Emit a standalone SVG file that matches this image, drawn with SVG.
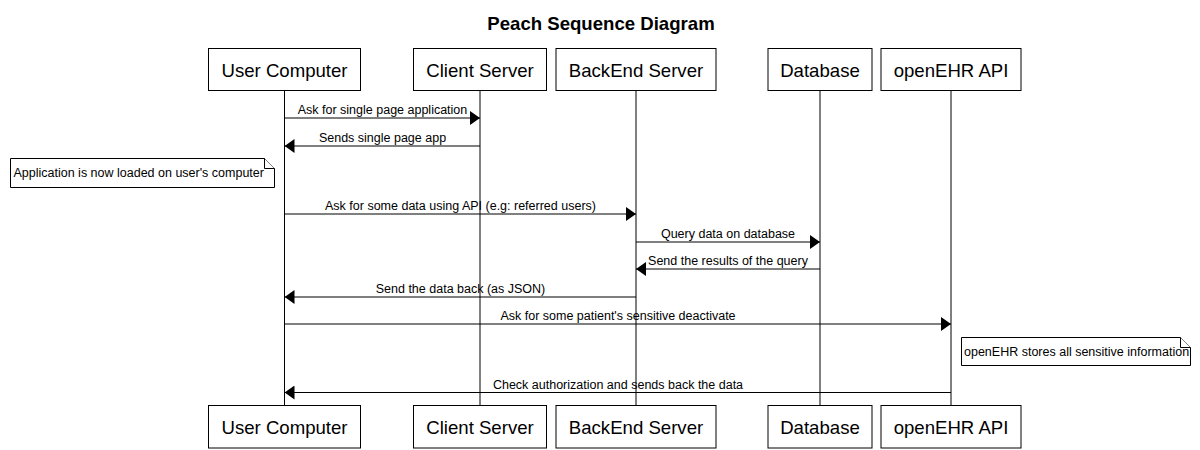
<svg xmlns="http://www.w3.org/2000/svg" width="1200" height="450" viewBox="0 0 1200 450">
<style>
  text { font-family: "Liberation Sans", Arial, sans-serif; fill: #000; }
  .title { font-size: 18.6px; font-weight: bold; text-anchor: middle; }
  .actor rect { fill: #fff; stroke: #000; stroke-width: 1; }
  .actor text { font-size: 18.6px; text-anchor: middle; }
  .life { stroke: #000; stroke-width: 1; fill: none; }
  .msg line { stroke: #000; stroke-width: 1; marker-end: url(#arrow); }
  .msg text { font-size: 12.5px; text-anchor: middle; }
  .note path { fill: #fff; stroke: #000; stroke-width: 1; }
  .note text { font-size: 12.5px; }
</style>
<defs>
  <marker id="arrow" markerUnits="userSpaceOnUse" markerWidth="10" markerHeight="14" refX="10" refY="7" orient="auto" viewBox="0 0 10 14">
    <path d="M0,0 L10,7 L0,14 Z" fill="#000"/>
  </marker>
</defs>
<rect x="0" y="0" width="1200" height="450" fill="#fff"/>
<text class="title" x="601" y="29.5">Peach Sequence Diagram</text>

<g id="lifelines">
  <line class="life" x1="284.5" y1="90.5" x2="284.5" y2="405.5"/>
  <line class="life" x1="480" y1="90.5" x2="480" y2="405.5"/>
  <line class="life" x1="636" y1="90.5" x2="636" y2="405.5"/>
  <line class="life" x1="820" y1="90.5" x2="820" y2="405.5"/>
  <line class="life" x1="951" y1="90.5" x2="951" y2="405.5"/>
</g>

<g id="user-computer" class="actor">
  <rect x="208.5" y="48.5" width="152" height="42"/>
  <text x="284.5" y="76.5">User Computer</text>
  <rect x="208.5" y="405.5" width="152" height="42.5"/>
  <text x="284.5" y="433.5">User Computer</text>
</g>
<g id="client-server" class="actor">
  <rect x="413.5" y="48.5" width="133" height="42"/>
  <text x="480" y="76.5">Client Server</text>
  <rect x="413.5" y="405.5" width="133" height="42.5"/>
  <text x="480" y="433.5">Client Server</text>
</g>
<g id="backend-server" class="actor">
  <rect x="556" y="48.5" width="160" height="42"/>
  <text x="636" y="76.5">BackEnd Server</text>
  <rect x="556" y="405.5" width="160" height="42.5"/>
  <text x="636" y="433.5">BackEnd Server</text>
</g>
<g id="database" class="actor">
  <rect x="768" y="48.5" width="104" height="42"/>
  <text x="820" y="76.5">Database</text>
  <rect x="768" y="405.5" width="104" height="42.5"/>
  <text x="820" y="433.5">Database</text>
</g>
<g id="openehr-api" class="actor">
  <rect x="881" y="48.5" width="140" height="42"/>
  <text x="951" y="76.5">openEHR API</text>
  <rect x="881" y="405.5" width="140" height="42.5"/>
  <text x="951" y="433.5">openEHR API</text>
</g>

<g id="note-app-loaded" class="note">
  <path d="M10.5,158.5 H264.5 L274.5,168.5 V187.5 H10.5 Z"/>
  <path d="M264.5,158.5 V168.5 H274.5"/>
  <text x="13.5" y="177">Application is now loaded on user's computer</text>
</g>
<g id="note-openehr" class="note">
  <path d="M961.5,337.5 H1180.5 L1190.5,347.5 V365.5 H961.5 Z"/>
  <path d="M1180.5,337.5 V347.5 H1190.5"/>
  <text x="964" y="355.5">openEHR stores all sensitive information</text>
</g>

<g id="connectors" class="msg">
  <line x1="284.5" y1="118" x2="480" y2="118"/>
  <text x="382.5" y="114">Ask for single page application</text>
  <line x1="480" y1="146" x2="284.5" y2="146"/>
  <text x="382.5" y="142">Sends single page app</text>
  <line x1="284.5" y1="214" x2="636" y2="214"/>
  <text x="460.5" y="210">Ask for some data using API (e.g: referred users)</text>
  <line x1="636" y1="242" x2="820" y2="242"/>
  <text x="728" y="238">Query data on database</text>
  <line x1="820" y1="269" x2="636" y2="269"/>
  <text x="728" y="265">Send the results of the query</text>
  <line x1="636" y1="297" x2="284.5" y2="297"/>
  <text x="460.5" y="293">Send the data back (as JSON)</text>
  <line x1="284.5" y1="324" x2="951" y2="324"/>
  <text x="618" y="320">Ask for some patient's sensitive deactivate</text>
  <line x1="951" y1="392.5" x2="284.5" y2="392.5"/>
  <text x="618" y="388.5">Check authorization and sends back the data</text>
</g>
</svg>
